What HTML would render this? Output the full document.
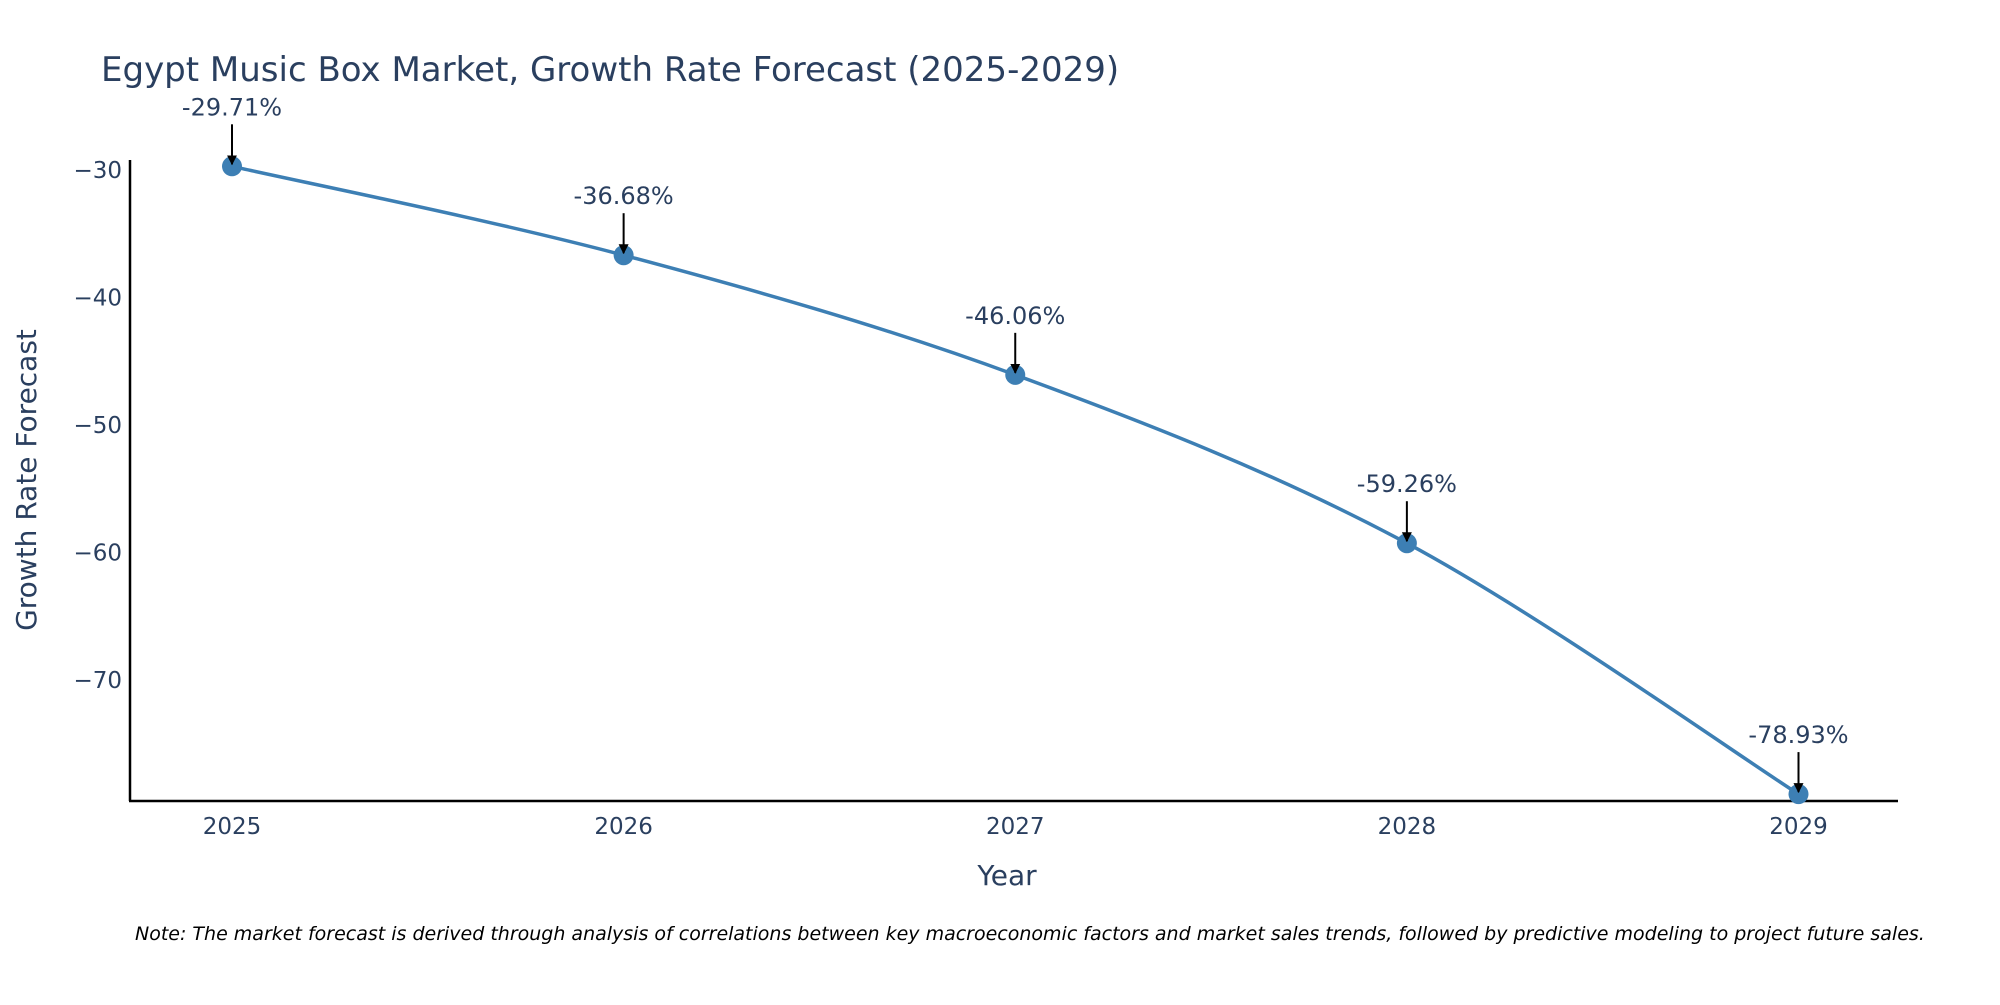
<!DOCTYPE html>
<html><head><meta charset="utf-8"><style>
body{margin:0;background:#fff;}
svg text{font-family:"DejaVu Sans","Liberation Sans",sans-serif;}
</style></head><body>
<svg id="chart" width="2000" height="1000" viewBox="0 0 2000 1000">
<defs><marker id="ah" viewBox="0 0 10 10" refX="9" refY="5" markerWidth="5" markerHeight="5" orient="auto"><path d="M0,0 L10,5 L0,10 z" fill="#000"/></marker></defs>
<text x="101" y="81" font-size="34" fill="#2a3f5f">Egypt Music Box Market, Growth Rate Forecast (2025-2029)</text>
<g id="yticks"></g><g id="xticks"></g>
<line x1="130" y1="160" x2="130" y2="801" stroke="#000" stroke-width="2.5"/>
<line x1="129" y1="801" x2="1898" y2="801" stroke="#000" stroke-width="2.5"/>
<path id="line" fill="none" stroke="#3d7fb4" stroke-width="3.5"/>
<g id="points"></g><g id="annots"></g>
<text x="1007" y="885" text-anchor="middle" font-size="28" fill="#2a3f5f">Year</text>
<text transform="translate(36,480) rotate(-90)" text-anchor="middle" font-size="28" fill="#2a3f5f">Growth Rate Forecast</text>
<text x="135" y="940" font-size="19" font-style="italic" fill="#000">Note: The market forecast is derived through analysis of correlations between key macroeconomic factors and market sales trends, followed by predictive modeling to project future sales.</text>
</svg>
<script>
const years=[2025,2026,2027,2028,2029];
const values=[-29.71,-36.68,-46.06,-59.26,-78.93];
const labels=["-29.71%","-36.68%","-46.06%","-59.26%","-78.93%"];
const yTicks=[-30,-40,-50,-60,-70];
const NS="http://www.w3.org/2000/svg";
function xs(y){return 232+(y-2025)*(1798.5-232)/4;}
function ys(v){return 170+(-30-v)*12.755;}
function mk(t,a,p){const e=document.createElementNS(NS,t);for(const k in a)e.setAttribute(k,a[k]);p.appendChild(e);return e;}
const yt=document.getElementById('yticks');
yTicks.forEach(v=>{const t=mk('text',{x:122,y:ys(v)+8,'text-anchor':'end','font-size':23,fill:'#2a3f5f'},yt);


t.textContent='\u2212'+Math.abs(v);});
const xt=document.getElementById('xticks');
years.forEach(y=>{const t=mk('text',{x:xs(y),y:834,'text-anchor':'middle','font-size':23,fill:'#2a3f5f'},xt);


t.textContent=y;});
const P=years.map((y,i)=>[xs(y),ys(values[i])]);
let d='M'+P[0][0]+','+P[0][1];
for(let i=0;i<P.length-1;i++){const p0=P[Math.max(0,i-1)],p1=P[i],p2=P[i+1],p3=P[Math.min(P.length-1,i+2)],s=6;
d+=' C'+(p1[0]+(p2[0]-p0[0])/s)+','+(p1[1]+(p2[1]-p0[1])/s)+' '+(p2[0]-(p3[0]-p1[0])/s)+','+(p2[1]-(p3[1]-p1[1])/s)+' '+p2[0]+','+p2[1];}
document.getElementById('line').setAttribute('d',d);
const pg=document.getElementById('points'),ag=document.getElementById('annots');
P.forEach((p,i)=>{const c=mk('circle',{cx:p[0],cy:p[1],r:10,fill:'#3d7fb4'},pg);


const l=mk('line',{x1:p[0],y1:p[1]-42,x2:p[0],y2:p[1]-2,stroke:'#000','stroke-width':2,'marker-end':'url(#ah)'},ag);


const t=mk('text',{x:p[0],y:p[1]-51,'text-anchor':'middle','font-size':24,fill:'#2a3f5f'},ag);


t.textContent=labels[i];});
</script>
</body></html>
